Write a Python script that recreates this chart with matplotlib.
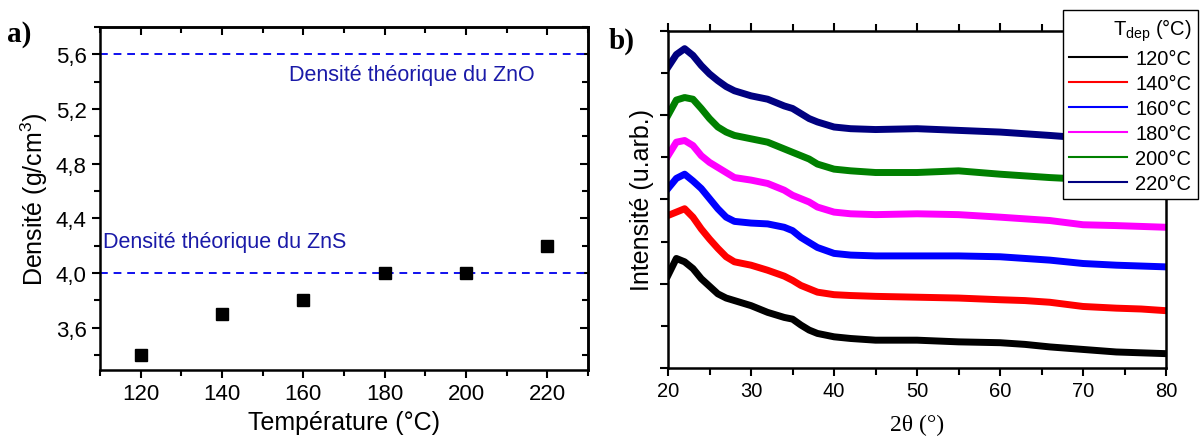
import numpy as np
import matplotlib
matplotlib.use('Agg')
import matplotlib.pyplot as plt
from matplotlib.ticker import MultipleLocator, FuncFormatter, NullFormatter

plt.rcParams['font.family'] = ['Liberation Sans', 'DejaVu Sans']
plt.rcParams['mathtext.fontset'] = 'custom'
plt.rcParams['mathtext.rm'] = 'Liberation Sans'

# ---- panel a : density vs deposition temperature ----
temperature = [120, 140, 160, 180, 200, 220]
density = [3.4, 3.7, 3.8, 4.0, 4.0, 4.2]
d_zns = 4.0
d_zno = 5.6

# ---- panel b : XRD patterns (arbitrary units) ----
two_theta = [20, 21, 22, 23, 24, 25, 26, 27, 28, 30, 32, 34, 35, 36, 37, 38,
             40, 42, 45, 50, 55, 60, 63, 66, 70, 74, 77, 80]
xrd_120 = [110, 130, 126, 118, 106, 97, 88, 83, 80, 74, 66, 60, 58, 51, 45, 41,
           37, 35, 33, 33, 31, 30, 28, 25, 22, 19, 18, 17]
xrd_140 = [181, 185, 189, 179, 165, 153, 142, 132, 126, 122, 116, 109, 104, 98, 94, 90,
           87, 86, 85, 84, 83, 81, 80, 78, 73, 71, 70, 68]
xrd_160 = [213, 225, 230, 222, 213, 201, 189, 179, 174, 172, 171, 167, 163, 155, 149, 143,
           136, 134, 133, 133, 133, 132, 130, 128, 124, 122, 121, 120]
xrd_180 = [252, 268, 270, 264, 252, 244, 238, 232, 226, 223, 219, 211, 205, 201, 197, 191,
           185, 183, 182, 183, 182, 179, 177, 175, 170, 169, 168, 167]
xrd_200 = [300, 318, 321, 319, 308, 296, 286, 280, 276, 272, 268, 260, 256, 252, 248, 242,
           236, 234, 232, 232, 234, 230, 228, 226, 224, 223, 222, 221]
xrd_220 = [357, 372, 379, 371, 359, 349, 341, 334, 329, 323, 319, 311, 308, 302, 296, 292,
           286, 284, 283, 284, 282, 280, 278, 276, 273, 271, 270, 268]
series_labels = ['120°C', '140°C', '160°C', '180°C', '200°C', '220°C']
series_colors = ['black', '#ff0000', '#0000ff', '#ff00ff', '#008000', '#000080']

fig = plt.figure(figsize=(12, 4.39), dpi=100)

# =========================== panel a ===========================
ax1 = fig.add_axes([0.0833, 0.155, 0.4067, 0.781])
ax1.axhline(d_zno, color='#1010ee', ls=(0, (4, 3)), lw=1.4)
ax1.axhline(d_zns, color='#1010ee', ls=(0, (4, 3)), lw=1.4)
ax1.plot(temperature, density, 's', color='black', ms=9)
ax1.text(156.5, 5.45, 'Densité théorique du ZnO', color='#1a1aa8', fontsize=15.5, va='center')
ax1.text(110.7, 4.23, 'Densité théorique du ZnS', color='#1a1aa8', fontsize=15.5, va='center')

ax1.set_xlim(110, 230)
ax1.set_ylim(3.29, 5.80)
ax1.xaxis.set_major_locator(MultipleLocator(20))
ax1.xaxis.set_minor_locator(MultipleLocator(10))
ax1.yaxis.set_minor_locator(MultipleLocator(0.2))
ax1.set_yticks(np.arange(3.6, 5.61, 0.4))
ax1.yaxis.set_major_formatter(FuncFormatter(lambda v, p: f'{v:.1f}'.replace('.', ',')))
ax1.tick_params(which='both', direction='out', width=1.5, labelsize=16)
ax1.tick_params(which='major', length=6)
ax1.tick_params(which='minor', length=4)
ax1.set_xlabel('Température (°C)', fontsize=18)
ax1.set_ylabel('Densité (g/cm$^3$)', fontsize=18)
for s in ax1.spines.values():
    s.set_linewidth(1.8)

# mirrored ticks pointing inward on top and right
top1 = ax1.secondary_xaxis('top')
top1.xaxis.set_major_locator(MultipleLocator(20))
top1.xaxis.set_minor_locator(MultipleLocator(10))
top1.xaxis.set_major_formatter(NullFormatter())
top1.tick_params(which='both', direction='in', width=1.5)
top1.tick_params(which='major', length=6)
top1.tick_params(which='minor', length=4)
top1.spines['top'].set_linewidth(1.8)
right1 = ax1.secondary_yaxis('right')
right1.set_yticks(np.arange(3.6, 5.61, 0.4))
right1.yaxis.set_minor_locator(MultipleLocator(0.2))
right1.yaxis.set_major_formatter(NullFormatter())
right1.tick_params(which='both', direction='in', width=1.5)
right1.tick_params(which='major', length=6)
right1.tick_params(which='minor', length=4)
right1.spines['right'].set_linewidth(1.8)

fig.text(0.006, 0.905, 'a)', fontsize=21, fontweight='bold', family='Liberation Serif')

# =========================== panel b ===========================
ax2 = fig.add_axes([0.5567, 0.1595, 0.415, 0.7677])
curves = [xrd_120, xrd_140, xrd_160, xrd_180, xrd_200, xrd_220]
handles = []
for vals, lab, col in zip(curves, series_labels, series_colors):
    ax2.plot(two_theta, vals, color=col, lw=5, solid_joinstyle='round')
    h, = ax2.plot([], [], color=col, lw=1.5, label=lab)
    handles.append(h)

ax2.set_xlim(20, 80)
ax2.set_ylim(0, 400)
ax2.xaxis.set_major_locator(MultipleLocator(10))
ax2.xaxis.set_minor_locator(MultipleLocator(5))
ax2.yaxis.set_major_locator(MultipleLocator(100))
ax2.yaxis.set_minor_locator(MultipleLocator(50))
ax2.tick_params(which='both', direction='out', width=1.5, labelsize=14.5, top=True)
ax2.tick_params(axis='y', which='both', labelleft=False)
ax2.tick_params(which='major', length=6)
ax2.tick_params(which='minor', length=5)
ax2.set_xlabel('2θ (°)', fontsize=17, family='Liberation Serif', labelpad=10)
ax2.set_ylabel('Intensité (u.arb.)', fontsize=18)
for s in ax2.spines.values():
    s.set_linewidth(1.8)

fig.text(0.507, 0.89, 'b)', fontsize=21, fontweight='bold', family='Liberation Serif')

leg = fig.legend(handles=handles, loc='upper right', bbox_to_anchor=(0.998, 0.975),
                 title='T$_{\\mathrm{dep}}$ (°C)', fontsize=14.5, title_fontsize=14.5,
                 frameon=True, fancybox=False, framealpha=1, edgecolor='black',
                 handlelength=2.9, handletextpad=0.4, labelspacing=0.3,
                 borderpad=0.3, borderaxespad=0)
leg.get_frame().set_linewidth(1.0)
leg._legend_box.align = 'right'

fig.savefig('out.png', dpi=100)
